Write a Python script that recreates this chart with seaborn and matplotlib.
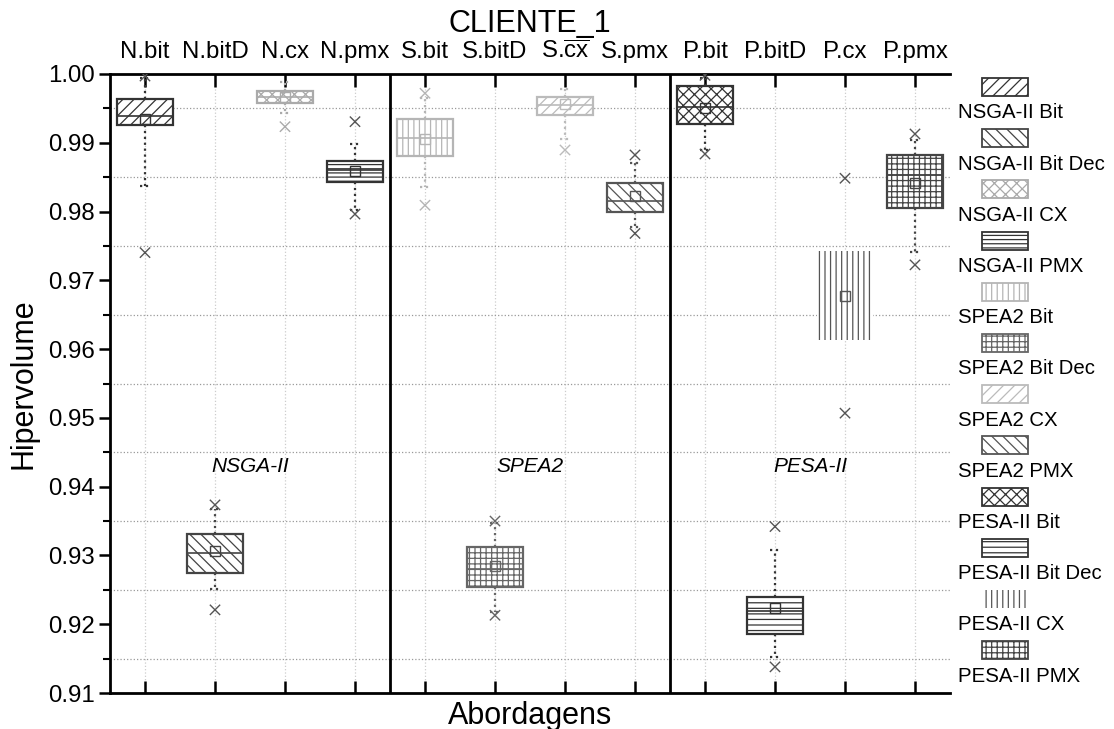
import matplotlib
matplotlib.use("Agg")
import matplotlib.pyplot as plt
from matplotlib.patches import Rectangle
import numpy as np
import pandas as pd
import seaborn as sns

# Dados (hipervolume, CLIENTE_1)
abordagens = ["N.bit", "N.bitD", "N.cx", "N.pmx",
              "S.bit", "S.bitD", r"S.$\overline{\mathrm{cx}}$", "S.pmx",
              "P.bit", "P.bitD", "P.cx", "P.pmx"]
nomes_legenda = ["NSGA-II Bit", "NSGA-II Bit Dec", "NSGA-II CX", "NSGA-II PMX",
                 "SPEA2 Bit", "SPEA2 Bit Dec", "SPEA2 CX", "SPEA2 PMX",
                 "PESA-II Bit", "PESA-II Bit Dec", "PESA-II CX", "PESA-II PMX"]
algoritmos = ["NSGA-II", "SPEA2", "PESA-II"]

q1 = [0.99259, 0.92743, 0.99583, 0.98435, 0.98808, 0.92535,
      0.99404, 0.97995, 0.99273, 0.91856, 0.96130, 0.98047]
mediana = [0.99394, 0.93033, 0.99670, 0.98605, 0.99070, 0.92803,
           0.99550, 0.98154, 0.99525, 0.92185, 0.96770, 0.98530]
q3 = [0.99632, 0.93314, 0.99758, 0.98740, 0.99346, 0.93116,
      0.99670, 0.98414, 0.99826, 0.92394, 0.97423, 0.98823]
whis_min = [0.98372, 0.92510, 0.99433, 0.98020, 0.98356, 0.92180,
            0.99051, 0.97778, 0.98895, 0.91530, 0.96130, 0.97418]
whis_max = [0.99940, 0.93680, 0.99888, 0.98983, 0.99647, 0.93470,
            0.99777, 0.98700, 0.99937, 0.93072, 0.97423, 0.99041]
media = [0.99350, 0.93060, 0.99670, 0.98590, 0.99050, 0.92840,
         0.99560, 0.98230, 0.99510, 0.92234, 0.96775, 0.98420]
extremos = [[0.99970, 0.97403], [0.93735, 0.92209], [0.99234], [0.99307, 0.97963],
            [0.99720, 0.98092], [0.93500, 0.92130], [0.98895], [0.98823, 0.97682],
            [0.99980, 0.98837], [0.93420, 0.91380], [0.98484, 0.95069], [0.99128, 0.97225]]

# estilo de cada caixa
hachuras = ["///", "\\\\\\", "xxx", "----", "|||", "+++",
            "///", "\\\\\\", "xxx", "---", "|||", "+++"]
cores = ["#333333", "#444444", "#aaaaaa", "#333333", "#b5b5b5", "#666666",
         "#bbbbbb", "#555555", "#333333", "#333333", "#555555", "#444444"]
contorno = [True] * 10 + [False, True]

sns.set_theme(style="ticks")
plt.rcParams["font.family"] = ["Liberation Sans", "DejaVu Sans"]
plt.rcParams["mathtext.fontset"] = "custom"
plt.rcParams["mathtext.rm"] = "Liberation Sans"
plt.rcParams["hatch.linewidth"] = 0.9
for chave in ["text.color", "axes.labelcolor", "xtick.color", "ytick.color"]:
    plt.rcParams[chave] = "black"

fig = plt.figure(figsize=(11.14, 7.29), dpi=100)
ax = fig.add_axes([110 / 1114, 1 - 693 / 729, 840 / 1114, 619 / 729])

for i in range(len(abordagens)):
    stats = dict(q1=q1[i], med=mediana[i], q3=q3[i], whislo=whis_min[i],
                 whishi=whis_max[i], mean=media[i], fliers=[])
    lw = 1.6 if contorno[i] else 0
    estilo_bigode = ":" if contorno[i] else "none"
    ax.bxp([stats], positions=[i], widths=0.81, patch_artist=True,
           showfliers=False, showmeans=True, manage_ticks=False, capwidths=0.14,
           boxprops=dict(facecolor="white", edgecolor=cores[i], hatch=hachuras[i], linewidth=lw),
           whiskerprops=dict(color=cores[i], linestyle=estilo_bigode, linewidth=1.6),
           capprops=dict(color=cores[i], linestyle=estilo_bigode, linewidth=1.6),
           medianprops=dict(color=cores[i], linestyle="-" if contorno[i] else "none", linewidth=1.2),
           meanprops=dict(marker="s", markerfacecolor="none", markeredgecolor=cores[i],
                          markersize=7, markeredgewidth=1))

# pontos extremos (x)
df_ext = pd.DataFrame([(abordagens[i], i, v) for i, vals in enumerate(extremos) for v in vals],
                      columns=["abordagem", "pos", "hv"])
paleta = {a: c if c not in ("#333333", "#444444") else "#555555" for a, c in zip(abordagens, cores)}
sns.scatterplot(data=df_ext, x="pos", y="hv", hue="abordagem", palette=paleta,
                marker="x", s=55, linewidth=1.0, legend=False, ax=ax, zorder=6)

# separadores dos algoritmos e rotulos
for k, nome in enumerate(algoritmos):
    if k > 0:
        ax.axvline(4 * k - 0.5, color="black", linewidth=2, zorder=7)
    ax.text(4 * k + 1.5, 0.943, nome, style="italic", ha="center", va="center", fontsize=15)

ax.set_xlim(-0.5, 11.5)
ax.set_ylim(0.91, 1.0)
ax.set_xticks(range(len(abordagens)))
ax.set_xticklabels(abordagens)
ax.set_yticks(np.arange(0.91, 1.0001, 0.01))
ax.set_yticks(np.arange(0.915, 1.0, 0.01), minor=True)
ax.yaxis.set_major_formatter("{x:.2f}")
ax.tick_params(axis="x", which="both", top=True, labeltop=True, bottom=True,
               labelbottom=False, direction="in", length=9, width=1.8,
               labelsize=17.3, pad=8, color="black")
ax.tick_params(axis="y", which="major", direction="out", length=8, width=1.8,
               labelsize=17.3, pad=3, color="black")
ax.tick_params(axis="y", which="minor", direction="out", length=5, width=1.5, color="black")
ax.grid(False)
ax.grid(True, which="minor", axis="y", linestyle=":", color="#999999", linewidth=0.9)
ax.grid(True, which="major", axis="x", linestyle=":", color="#cccccc", linewidth=0.9)
sns.despine(ax=ax, top=False, right=True)
for lado in ["top", "left", "bottom"]:
    ax.spines[lado].set_linewidth(2)
    ax.spines[lado].set_color("black")

ax.set_xlabel("Abordagens", fontsize=22)
ax.set_ylabel("Hipervolume", fontsize=22)
ax.xaxis.set_label_coords(0.5, -0.013)
ax.yaxis.set_label_coords(-0.085, 0.5)
fig.text((110 + 420) / 1114, 1 - 32 / 729, "CLIENTE_1", ha="center", va="baseline", fontsize=22)

# legenda: amostra acima do nome
for i, nome in enumerate(nomes_legenda):
    ly = 113 + 51.2 * i
    fig.add_artist(Rectangle((982 / 1114, 1 - (ly - 17) / 729), 46 / 1114, 18 / 729,
                             transform=fig.transFigure, facecolor="white",
                             edgecolor=cores[i], hatch=hachuras[i],
                             linewidth=1.3 if contorno[i] else 0))
    fig.text(958 / 1114, 1 - ly / 729, nome, va="center", ha="left", fontsize=14.7)

fig.savefig("out.png", dpi=100)
